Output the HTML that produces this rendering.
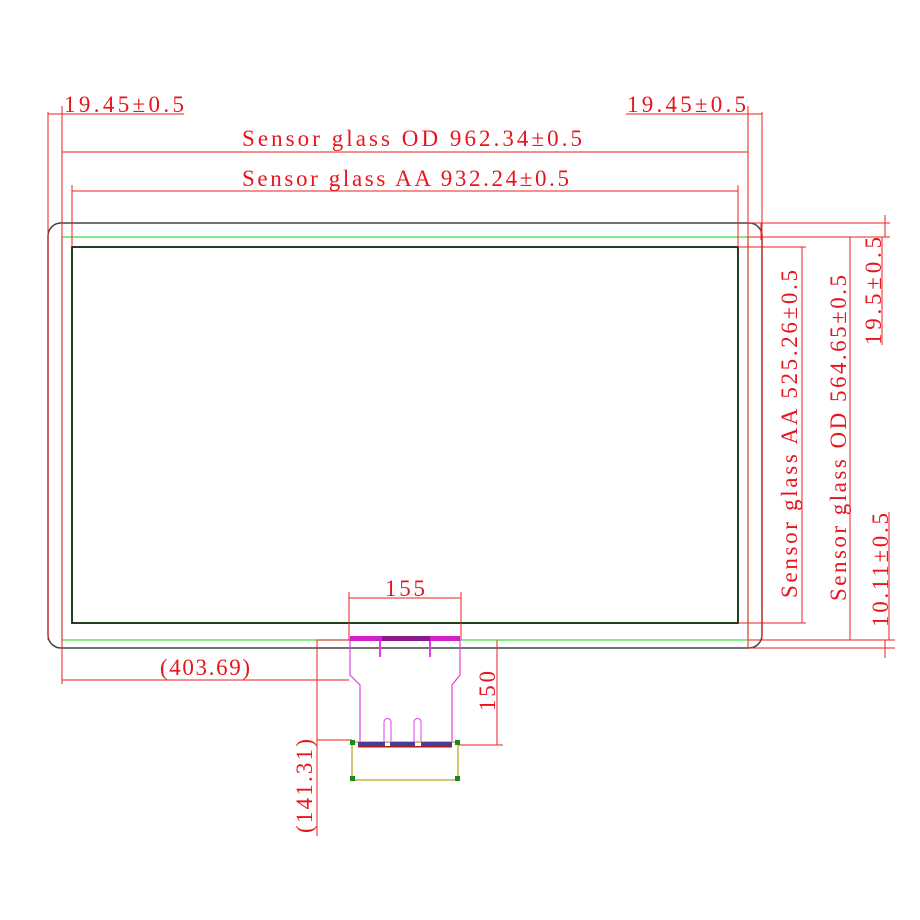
<!DOCTYPE html>
<html><head><meta charset="utf-8"><style>
html,body{margin:0;padding:0;background:#fff;width:920px;height:920px;overflow:hidden}
svg{display:block}
text{font-family:"Liberation Serif","Noto Serif CJK SC",serif;fill:#e8141c;font-size:23px}
</style></head><body>
<svg width="920" height="920" viewBox="0 0 920 920" xmlns="http://www.w3.org/2000/svg">
<rect x="48" y="223" width="714" height="425" rx="13" ry="13" fill="none" stroke="#444" stroke-width="1.5"/>
<rect x="62" y="237" width="686" height="403" fill="none" stroke="#33dd33" stroke-width="1.2"/>
<rect x="72" y="247" width="666" height="376" fill="none" stroke="#0a2a0a" stroke-width="1.8"/>

<g stroke="#ee2020" stroke-width="1" fill="none">
<line x1="48" y1="112" x2="48" y2="640"/>
<line x1="62" y1="106" x2="62" y2="648"/>
<line x1="72" y1="185" x2="72" y2="247"/>
<line x1="48" y1="114" x2="62" y2="114"/>
<line x1="62" y1="114" x2="184" y2="114"/>
<line x1="748" y1="106" x2="748" y2="648"/>
<line x1="762" y1="112" x2="762" y2="640"/>
<line x1="738" y1="185" x2="738" y2="247"/>
<line x1="626" y1="114" x2="762" y2="114"/>
<line x1="62" y1="152" x2="748" y2="152"/>
<line x1="72" y1="191" x2="738" y2="191"/>
<line x1="748" y1="223" x2="890" y2="223"/>
<line x1="748" y1="237" x2="890" y2="237"/>
<line x1="738" y1="247" x2="806" y2="247"/>
<line x1="738" y1="623" x2="806" y2="623"/>
<line x1="748" y1="640" x2="895" y2="640"/>
<line x1="748" y1="648" x2="895" y2="648"/>
<line x1="802" y1="247" x2="802" y2="623"/>
<line x1="850" y1="237" x2="850" y2="640"/>
<line x1="885" y1="215" x2="885" y2="237"/>
<line x1="885" y1="640" x2="885" y2="658"/>
<line x1="882" y1="237" x2="882" y2="345"/>
<line x1="889" y1="512" x2="889" y2="640"/>
<line x1="761" y1="223" x2="761" y2="240"/>
<line x1="349" y1="592" x2="349" y2="640"/>
<line x1="461" y1="592" x2="461" y2="640"/>
<line x1="349" y1="598" x2="461" y2="598"/>
<line x1="460" y1="640" x2="503" y2="640"/>
<line x1="458" y1="745" x2="503" y2="745"/>
<line x1="497" y1="640" x2="497" y2="745"/>
<line x1="317" y1="640" x2="350" y2="640"/>
<line x1="317" y1="640" x2="317" y2="836"/>
<line x1="317" y1="740" x2="352" y2="740"/>
<line x1="62" y1="680" x2="349" y2="680"/>
<line x1="62" y1="648" x2="62" y2="684"/>
</g>
<line x1="460" y1="640" x2="748" y2="640" stroke="#33dd33" stroke-width="1"/>

<path d="M350 640 L350 675 L360 685 L360 742 M460 640 L460 675 L452 685 L452 742" fill="none" stroke="#e040e0" stroke-width="1.2"/>
<path d="M380 640 v17 M430 640 v17" stroke="#e040e0" stroke-width="2"/>
<path d="M384 742 v-20 a3 3 0 0 1 7 0 v20 M414 742 v-20 a3 3 0 0 1 7 0 v20" fill="none" stroke="#e040e0" stroke-width="1"/>
<rect x="350" y="636" width="110" height="5" fill="#d020d0"/>
<rect x="382" y="636" width="48" height="5" fill="#8a1a8a"/>
<rect x="352" y="742" width="106" height="38" fill="none" stroke="#c8b040" stroke-width="1.5"/>
<rect x="358" y="742" width="27" height="5" fill="#4a3a9a"/>
<rect x="390" y="742" width="25" height="5" fill="#4a3a9a"/>
<rect x="421" y="742" width="31" height="5" fill="#4a3a9a"/>
<rect x="358" y="746" width="94" height="1.5" fill="#a02020"/>
<rect x="350" y="740" width="5" height="5" fill="#1a8a1a"/>
<rect x="455" y="740" width="5" height="5" fill="#1a8a1a"/>
<rect x="350" y="776" width="5" height="5" fill="#1a8a1a"/>
<rect x="455" y="776" width="5" height="5" fill="#1a8a1a"/>

<text x="64" y="112" textLength="120" lengthAdjust="spacing">19.45±0.5</text>
<text x="627" y="112" textLength="119" lengthAdjust="spacing">19.45±0.5</text>
<text x="242" y="146" textLength="340" lengthAdjust="spacing">Sensor glass OD 962.34±0.5</text>
<text x="242" y="186" textLength="327" lengthAdjust="spacing">Sensor glass AA 932.24±0.5</text>
<text x="160" y="675" textLength="90" lengthAdjust="spacing">(403.69)</text>
<text x="385" y="596" textLength="40" lengthAdjust="spacing">155</text>
<text transform="translate(495,711) rotate(-90)" textLength="40" lengthAdjust="spacing">150</text>
<text transform="translate(312,833) rotate(-90)" textLength="94" lengthAdjust="spacing">(141.31)</text>
<text transform="translate(797,598) rotate(-90)" textLength="328" lengthAdjust="spacing">Sensor glass AA 525.26±0.5</text>
<text transform="translate(846,601) rotate(-90)" textLength="326" lengthAdjust="spacing">Sensor glass OD 564.65±0.5</text>
<text transform="translate(881,345) rotate(-90)" textLength="108" lengthAdjust="spacing">19.5±0.5</text>
<text transform="translate(888,627) rotate(-90)" textLength="114" lengthAdjust="spacing">10.11±0.5</text>
</svg>
</body></html>
